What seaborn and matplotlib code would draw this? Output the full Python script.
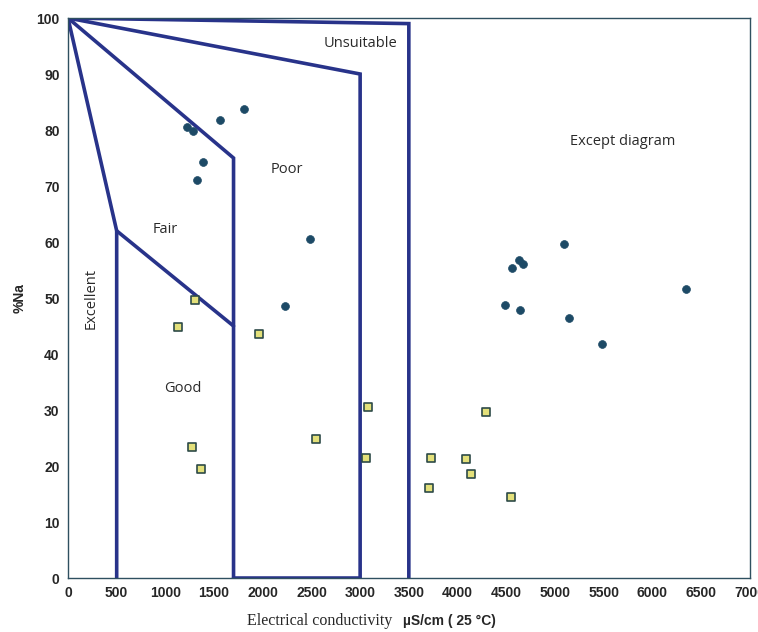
import pandas as pd
import matplotlib.pyplot as plt
import seaborn as sns

# Wilcox diagram: sample points
ec_circle = [1220, 1283, 1560, 1806, 1386, 1324, 2484, 2227, 5091, 4629, 4670,
             4557, 6343, 4485, 4639, 5142, 5481]
na_circle = [80.5, 79.8, 81.8, 83.8, 74.3, 71.1, 60.5, 48.6, 59.6, 56.8, 56.1,
             55.4, 51.6, 48.8, 47.9, 46.4, 41.8]
ec_square = [1303, 1131, 1963, 3079, 2544, 1273, 1366, 3059, 4290, 3726, 4085,
             4136, 3705, 4547]
na_square = [49.6, 44.8, 43.6, 30.5, 24.8, 23.4, 19.5, 21.4, 29.7, 21.4, 21.3,
             18.6, 16.1, 14.5]

# class boundaries
excellent_x = [0, 500, 500]
excellent_y = [100, 62, 0]
good_x = [0, 1700, 1700]
good_y = [100, 75, 0]
fair_x = [500, 1700]
fair_y = [62, 45]
poor_x = [0, 3000, 3000, 1700]
poor_y = [100, 90, 0, 0]
unsuit_x = [0, 3500, 3500]
unsuit_y = [100, 99, 0]

labels = ['Unsuitable', 'Poor', 'Fair', 'Good', 'Except diagram']
label_x = [3000, 2250, 1000, 1180, 5700]
label_y = [95.5, 73, 62.3, 33.8, 78]

sns.set_style('white')
plt.rcParams['font.family'] = ['Open Sans', 'DejaVu Sans']

fig = plt.figure(figsize=(7.58, 6.32), dpi=100)
ax = fig.add_axes([0.0897, 0.0854, 0.8993, 0.8861])

line_color = '#28338a'
for xs, ys in [(excellent_x, excellent_y), (good_x, good_y), (fair_x, fair_y),
               (poor_x, poor_y), (unsuit_x, unsuit_y)]:
    ax.plot(xs, ys, color=line_color, lw=2.6, solid_joinstyle='miter', zorder=2)

circles = pd.DataFrame({'ec': ec_circle, 'na': na_circle})
squares = pd.DataFrame({'ec': ec_square, 'na': na_square})
sns.scatterplot(data=circles, x='ec', y='na', marker='o', s=32, color='#1d4a66',
                edgecolor='#1d4a66', linewidth=0.5, ax=ax, zorder=3)
sns.scatterplot(data=squares, x='ec', y='na', marker='s', s=34, color='#e3e07a',
                edgecolor='#2d4a48', linewidth=1.2, ax=ax, zorder=3)

for t, x, y in zip(labels, label_x, label_y):
    ax.text(x, y, t, fontsize=10.5, color='#2a2a2a', ha='center', va='center')
ax.text(240, 50, 'Excellent', fontsize=10.5, color='#2a2a2a', rotation=90,
        ha='center', va='center')

ax.set_xlim(0, 7000)
ax.set_ylim(0, 100)
ax.set_xticks(range(0, 7001, 500))
ax.set_xticklabels([str(v) for v in range(0, 7001, 500)])
ax.set_yticks(range(0, 101, 10))
ax.tick_params(direction='inout', length=6, width=1, color='#2f5060',
               labelsize=10, pad=3)
for lab in ax.get_xticklabels() + ax.get_yticklabels():
    lab.set_fontweight('bold')
    lab.set_family(['Liberation Sans', 'DejaVu Sans'])
for sp in ax.spines.values():
    sp.set_color('#2f5060')
    sp.set_linewidth(1.0)

ax.set_xlabel('')
ax.set_ylabel('%Na', fontsize=10, fontweight='bold',
              family=['Liberation Sans', 'DejaVu Sans'], labelpad=7)
fig.text(0.518, 0.017, 'Electrical conductivity', fontsize=11.5,
         family=['Liberation Serif', 'DejaVu Serif'], ha='right', va='center')
fig.text(0.532, 0.017, 'µS/cm ( 25 °C)', fontsize=10, fontweight='bold',
         family=['Liberation Sans', 'DejaVu Sans'], ha='left', va='center')

fig.savefig('out.png', dpi=100)
